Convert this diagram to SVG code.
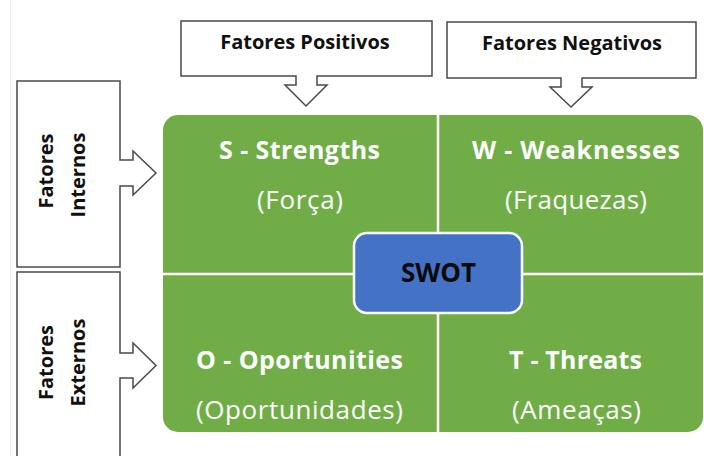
<svg xmlns="http://www.w3.org/2000/svg" width="704" height="456" viewBox="0 0 704 456">
  <style>
    .callout { fill: #ffffff; stroke: #4a4a4a; stroke-width: 1.5; stroke-linejoin: miter; }
    .label { font-family: "Open Sans", "Liberation Sans", sans-serif; font-weight: 700; font-size: 20px; fill: #111111; text-anchor: middle; }
    .title { font-family: "Open Sans", "Liberation Sans", sans-serif; font-weight: 700; font-size: 25px; fill: #ffffff; text-anchor: middle; }
    .sub { font-family: "Open Sans", "Liberation Sans", sans-serif; font-weight: 400; font-size: 26px; fill: #ffffff; text-anchor: middle; }
    .divider { stroke: #ffffff; stroke-width: 2.5; }
  </style>

  <rect x="0" y="0" width="704" height="456" fill="#ffffff"/>
  <line x1="10.5" y1="0" x2="10.5" y2="456" stroke="#ececec" stroke-width="1"/>

  <!-- SWOT matrix -->
  <g id="matrix">
    <rect x="163" y="115" width="540" height="317" rx="15" fill="#70AD47"/>
    <line class="divider" x1="438" y1="115" x2="438" y2="432"/>
    <line class="divider" x1="163" y1="274" x2="703" y2="274"/>
  </g>

  <g id="strengths">
    <text class="title" x="299.5" y="159" textLength="161" lengthAdjust="spacing">S - Strengths</text>
    <text class="sub" x="300" y="209" textLength="86" lengthAdjust="spacing">(Força)</text>
  </g>
  <g id="weaknesses">
    <text class="title" x="576" y="159" textLength="208" lengthAdjust="spacing">W - Weaknesses</text>
    <text class="sub" x="576" y="209" textLength="142" lengthAdjust="spacing">(Fraquezas)</text>
  </g>
  <g id="opportunities">
    <text class="title" x="299.5" y="368.5" textLength="207" lengthAdjust="spacing">O - Oportunities</text>
    <text class="sub" x="299.5" y="419" textLength="207" lengthAdjust="spacing">(Oportunidades)</text>
  </g>
  <g id="threats">
    <text class="title" x="575.5" y="368.5" textLength="133" lengthAdjust="spacing">T - Threats</text>
    <text class="sub" x="576.5" y="419" textLength="129" lengthAdjust="spacing">(Ameaças)</text>
  </g>

  <g id="swot">
    <rect x="354" y="233" width="168" height="80" rx="13" fill="#4472C4" stroke="#ffffff" stroke-width="2.5"/>
    <text x="438.5" y="282" font-family="'Open Sans', 'Liberation Sans', sans-serif" font-weight="700" font-size="26" fill="#0a0a0a" text-anchor="middle">SWOT</text>
  </g>

  <!-- Callout boxes with block arrows pointing into the matrix -->
  <g id="connectors">
    <g id="positivos">
      <path class="callout" d="M181,21 H432 V76 H317 V85 H327 L306,106 L285,85 H296 V76 H181 Z"/>
      <text class="label" x="305" y="48.5">Fatores Positivos</text>
    </g>
    <g id="negativos">
      <path class="callout" d="M447,22 H696 V78 H582 V87 H592 L571,107 L550,87 H561 V78 H447 Z"/>
      <text class="label" x="572" y="50">Fatores Negativos</text>
    </g>
    <g id="internos">
      <path class="callout" d="M17,81 H120 V160 H133 V151 L156,173 L133,195 V186 H120 V267 H17 Z"/>
      <text class="label" transform="translate(53,171) rotate(-90)">Fatores</text>
      <text class="label" transform="translate(85,175) rotate(-90)">Internos</text>
    </g>
    <g id="externos">
      <path class="callout" d="M17,272 H120 V353 H133 V343 L156,365.5 L133,388 V378 H120 V470 H17 Z"/>
      <text class="label" transform="translate(53,362.5) rotate(-90)">Fatores</text>
      <text class="label" transform="translate(85,362.5) rotate(-90)">Externos</text>
    </g>
  </g>
</svg>
